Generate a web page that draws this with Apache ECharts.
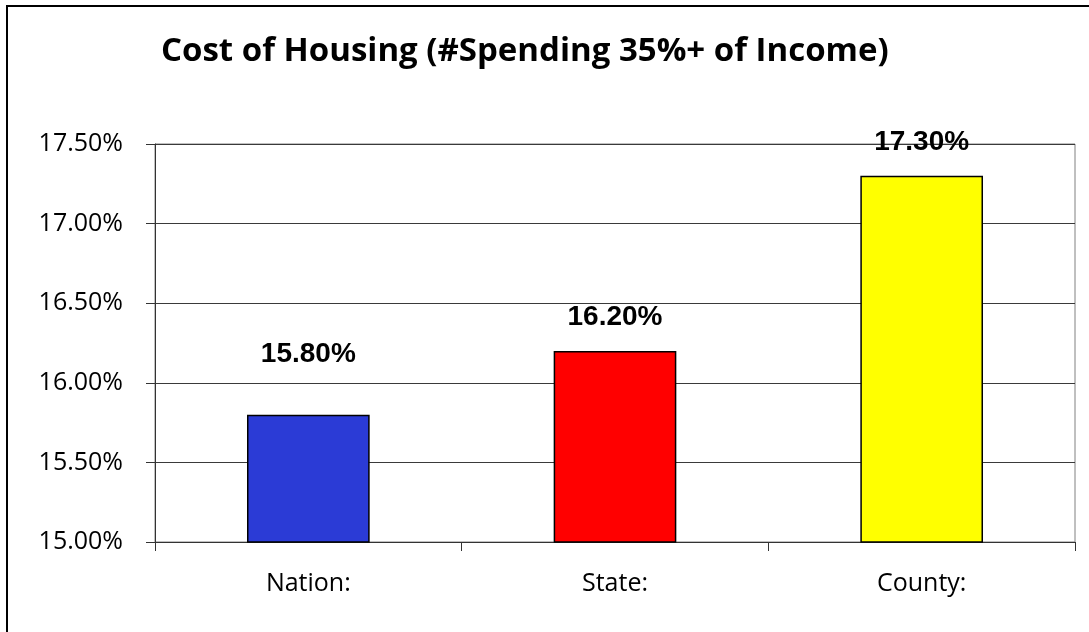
<!DOCTYPE html>
<html>
<head>
<meta charset="utf-8">
<script src="https://cdn.jsdelivr.net/npm/echarts@6/dist/echarts.min.js"></script>
<style>
html, body { margin: 0; padding: 0; background: #fff; }
#chart { width: 1089px; height: 632px; }
</style>
</head>
<body>
<div id="chart"></div>
<script>
var titleText = 'Cost of Housing (#Spending 35%+ of Income)';
var categories = ['Nation:', 'State:', 'County:'];
var values = [15.8, 16.2, 17.3];
var barColors = ['#2b3bd6', '#ff0000', '#ffff00'];
var yMin = 15.0;
var yMax = 17.5;
var yStep = 0.5;

var myChart = echarts.init(document.getElementById('chart'));

var barData = values.map(function(v, i) {
    var item = {
        value: v,
        itemStyle: { color: barColors[i] }
    };
    // the nation label sits higher above its bar in the original
    if (i === 0) {
        item.label = { distance: 46 };
    }
    return item;
});

var option = {
    animation: false,
    backgroundColor: '#fff',
    title: {
        text: titleText,
        left: 156,
        top: 30,
        textStyle: {
            fontFamily: 'Open Sans',
            fontWeight: 'bold',
            fontSize: 33,
            color: '#000'
        }
    },
    grid: {
        left: 155,
        right: 14,
        top: 144,
        bottom: 90,
        show: true,
        borderColor: '#808080',
        borderWidth: 1
    },
    xAxis: {
        type: 'category',
        data: categories,
        boundaryGap: true,
        axisLine: { lineStyle: { color: '#333', width: 1 } },
        axisTick: { show: true, length: 9, lineStyle: { color: '#333' } },
        axisLabel: {
            margin: 29,
            fontFamily: 'Open Sans',
            fontSize: 25,
            color: '#000'
        }
    },
    yAxis: {
        type: 'value',
        min: yMin,
        max: yMax,
        interval: yStep,
        axisLine: { show: true, lineStyle: { color: '#333', width: 1 } },
        axisTick: { show: true, length: 9, lineStyle: { color: '#333' } },
        splitLine: { show: true, lineStyle: { color: '#3a3a3a', width: 1 } },
        axisLabel: {
            margin: 32,
            fontFamily: 'Open Sans',
            fontSize: 25,
            color: '#000',
            formatter: function(v) {
                return v.toFixed(2) + '%';
            }
        }
    },
    series: [{
        type: 'bar',
        data: barData,
        barWidth: '40%',
        itemStyle: { borderColor: '#000', borderWidth: 1.5 },
        label: {
            show: true,
            position: 'top',
            distance: 20,
            fontFamily: 'Liberation Sans',
            fontWeight: 'bold',
            fontSize: 28,
            color: '#000',
            formatter: function(p) {
                return p.value.toFixed(2) + '%';
            }
        }
    }],
    graphic: [{
        type: 'rect',
        shape: { x: 7, y: 6, width: 1300, height: 900 },
        style: { fill: null, stroke: '#000', lineWidth: 2 },
        silent: true
    }]
};

myChart.setOption(option);
</script>
</body>
</html>
